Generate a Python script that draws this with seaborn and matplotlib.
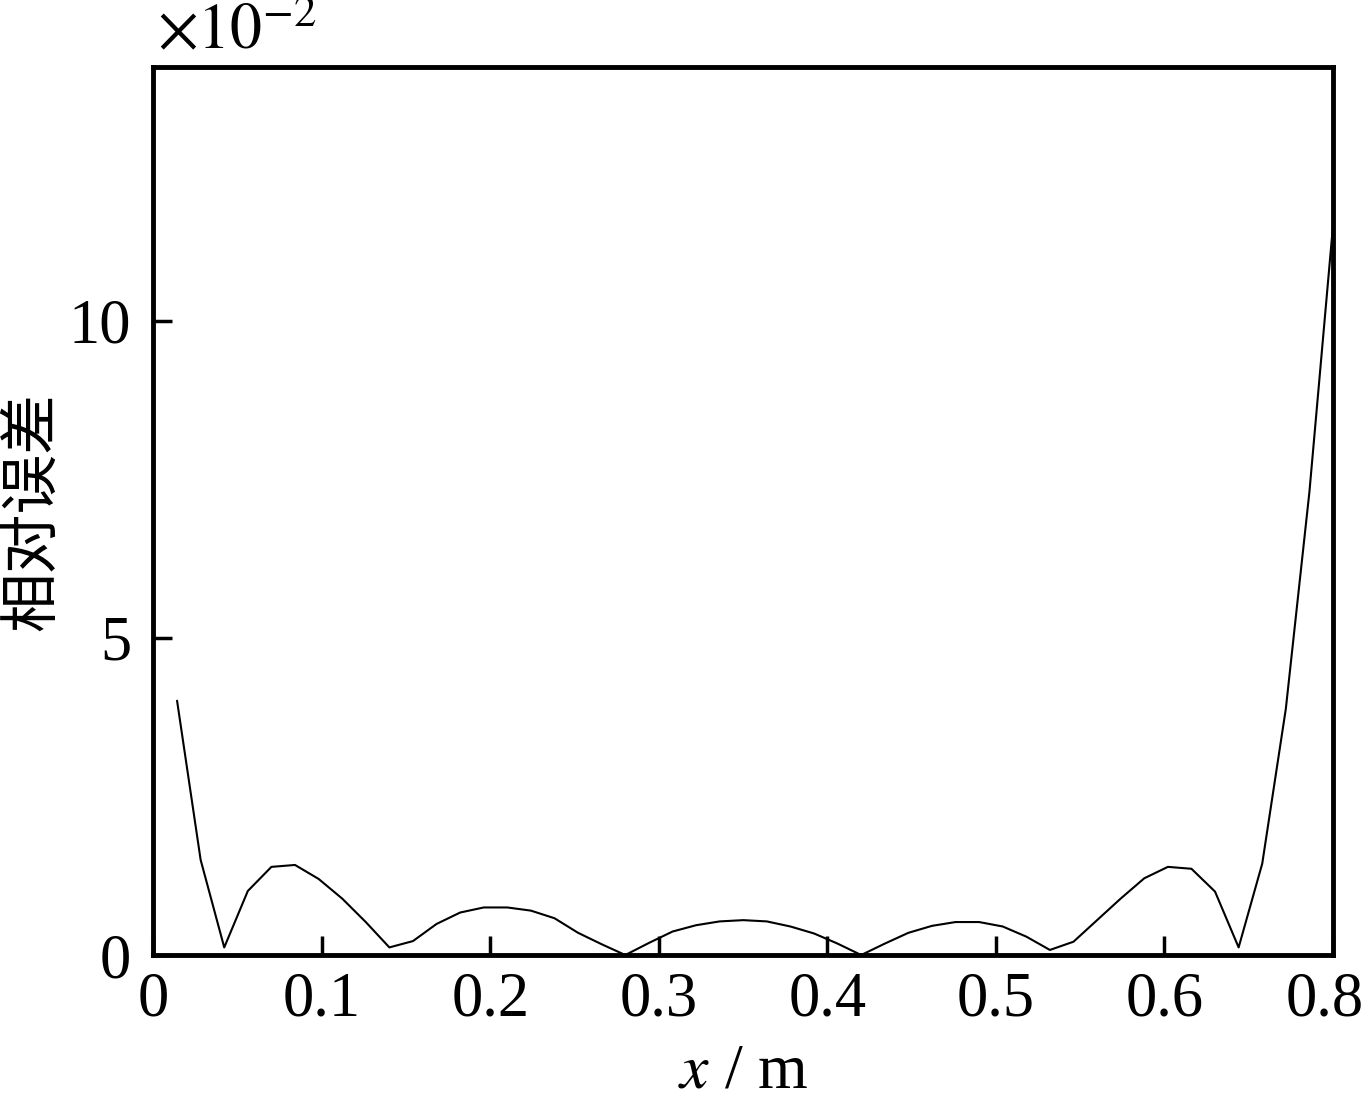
import seaborn as sns
import matplotlib.pyplot as plt
import matplotlib.transforms as mtransforms
import pandas as pd
import numpy as np

# sample positions (tick units, spacing 0.014) and relative error (x1e-2)
x_pos = [0.014, 0.028, 0.042, 0.056, 0.070, 0.084, 0.098, 0.112, 0.126, 0.140,
         0.154, 0.168, 0.182, 0.196, 0.210, 0.224, 0.238, 0.252, 0.266, 0.280,
         0.294, 0.308, 0.322, 0.336, 0.350, 0.364, 0.378, 0.392, 0.406, 0.420,
         0.434, 0.448, 0.462, 0.476, 0.490, 0.504, 0.518, 0.532, 0.546, 0.560,
         0.574, 0.588, 0.602, 0.616, 0.630, 0.644, 0.658, 0.672, 0.686, 0.700]
rel_err = [4.01, 1.50, 0.12, 1.01, 1.39, 1.42, 1.20, 0.89, 0.52, 0.12,
           0.22, 0.49, 0.67, 0.75, 0.75, 0.70, 0.58, 0.35, 0.17, 0.00,
           0.19, 0.37, 0.47, 0.53, 0.55, 0.53, 0.45, 0.34, 0.18, 0.00,
           0.18, 0.35, 0.46, 0.52, 0.52, 0.45, 0.29, 0.08, 0.21, 0.55,
           0.89, 1.21, 1.39, 1.36, 1.00, 0.12, 1.44, 3.88, 7.30, 11.50]

x_ticks = [0, 0.1, 0.2, 0.3, 0.4, 0.5, 0.6, 0.7]
x_tick_labels = ["0", "0.1", "0.2", "0.3", "0.4", "0.5", "0.6", "0.8"]
y_ticks = [0, 5, 10]

df = pd.DataFrame({"x": x_pos, "err": rel_err})

sns.set_style("ticks", rc={"text.color": "black", "axes.labelcolor": "black",
                           "xtick.color": "black", "ytick.color": "black",
                           "axes.edgecolor": "black"})
plt.rcParams['font.family'] = ['Liberation Serif', 'Noto Sans CJK SC']
plt.rcParams['mathtext.fontset'] = 'stix'

fig = plt.figure(figsize=(13.69, 10.99), dpi=100)
ax = fig.add_axes([0.1121, 0.131, 0.8616, 0.808])

sns.lineplot(data=df, x="x", y="err", color="black", linewidth=1.5, ax=ax)

ax.set_xlim(0, 0.7)
ax.set_ylim(0, 14)
ax.set_xticks(x_ticks)
ax.set_xticklabels(x_tick_labels)
ax.set_yticks(y_ticks)
ax.tick_params(direction="in", length=14, width=2.5, labelsize=45,
               top=False, right=False)
ax.tick_params(axis="x", pad=12)
ax.tick_params(axis="y", pad=16)
for s in ax.spines.values():
    s.set_linewidth(3.5)

# keep the last x label inside the canvas
last = ax.get_xticklabels()[-1]
last.set_transform(last.get_transform() +
                   mtransforms.ScaledTranslation(-8 / 100, 0, fig.dpi_scale_trans))

ax.set_xlabel("$x$ / m", fontsize=46, labelpad=10)
ax.set_ylabel("相对误差", fontsize=43, family=['Noto Sans CJK SC'], labelpad=4)
fig.text(0.115, 0.996, r"$\times10^{-2}$", fontsize=46, ha="left", va="top")

plt.savefig("out.png", dpi=100)
